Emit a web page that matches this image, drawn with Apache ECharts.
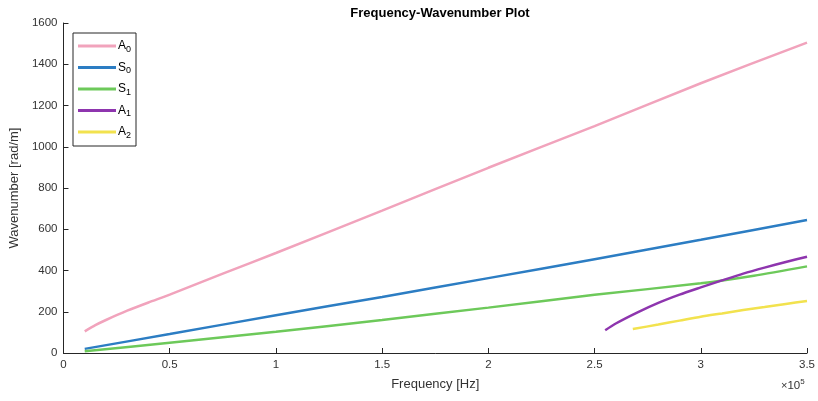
<!DOCTYPE html>
<html>
<head>
<meta charset="utf-8">
<script src="https://cdn.jsdelivr.net/npm/echarts@6/dist/echarts.min.js"></script>
<style>html,body{margin:0;padding:0;background:#fff;}#c{width:818px;height:401px;}</style>
</head>
<body>
<div id="c"></div>
<script>
// Frequencies in Hz
const freqA0 = [10000, 15000, 20000, 30000, 40000, 50000, 75000, 100000, 150000, 200000, 250000, 300000, 350000];
const valA0  = [105, 135, 160, 205, 245, 283, 385, 485, 690, 898, 1100, 1308, 1505];
const freqS0 = [10000, 50000, 100000, 150000, 200000, 250000, 300000, 350000];
const valS0  = [20, 92, 183, 272, 363, 455, 549, 645];
const freqS1 = [10000, 50000, 100000, 150000, 200000, 250000, 300000, 325000, 350000];
const valS1  = [8, 50, 103, 160, 220, 282, 338, 375, 420];
const freqA1 = [255000, 260000, 270000, 280000, 290000, 300000, 310000, 320000, 330000, 340000, 350000];
const valA1  = [110, 143, 196, 243, 283, 318, 352, 385, 414, 441, 467];
const freqA2 = [268000, 280000, 290000, 300000, 310000, 320000, 330000, 340000, 350000];
const valA2  = [116, 138, 157, 176, 192, 208, 223, 238, 252];
const seriesNames = ['A0', 'S0', 'S1', 'A1', 'A2'];
const seriesColors = ['#F1A3BC', '#2C7DC3', '#6DC95A', '#8E35AE', '#F2E24E'];
const xTicks = [0, 0.5, 1, 1.5, 2, 2.5, 3, 3.5];
const yTicks = [0, 200, 400, 600, 800, 1000, 1200, 1400, 1600];

const freqs = [freqA0, freqS0, freqS1, freqA1, freqA2];
const vals = [valA0, valS0, valS1, valA1, valA2];

const chart = echarts.init(document.getElementById('c'), null, {renderer: 'canvas'});
const font = 'Liberation Sans, Arial, sans-serif';
const axisColor = '#262626';

const series = seriesNames.map((n, i) => ({
  name: n,
  type: 'line',
  data: freqs[i].map((f, j) => [f, vals[i][j]]),
  showSymbol: false,
  symbol: 'none',
  smooth: 0.25,
  lineStyle: {color: seriesColors[i], width: 2.5},
  itemStyle: {color: seriesColors[i]},
  z: 2
}));

chart.setOption({
  animation: false,
  backgroundColor: '#fff',
  title: {
    text: 'Frequency-Wavenumber Plot',
    left: 435, textAlign: 'center', top: 2,
    textStyle: {fontFamily: font, fontSize: 13, fontWeight: 'bold', color: '#000'}
  },
  grid: {left: 62, right: 10, top: 23, bottom: 48, containLabel: false},
  legend: {
    orient: 'vertical',
    left: 73, top: 33,
    data: seriesNames,
    itemWidth: 38, itemHeight: 3, itemGap: 7.5,
    padding: [7, 5, 6, 5],
    borderColor: '#262626', borderWidth: 1, backgroundColor: '#fff',
    icon: 'rect',
    itemStyle: {borderWidth: 0},
    formatter: function (name) { return '{b|' + name[0] + '}{s|' + name.slice(1) + '}'; },
    textStyle: {
      fontFamily: font, color: '#000', padding: [0, 0, 0, -3],
      rich: {
        b: {fontFamily: font, fontSize: 12, color: '#000'},
        s: {fontFamily: font, fontSize: 9, color: '#000', verticalAlign: 'bottom', padding: [7, 0, 0, 0]}
      }
    }
  },
  xAxis: {
    type: 'value', min: 0, max: 350000, interval: 50000,
    name: 'Frequency [Hz]', nameLocation: 'middle', nameGap: 25,
    nameTextStyle: {fontFamily: font, fontSize: 13, color: '#333'},
    axisLine: {show: true, lineStyle: {color: axisColor, width: 1}},
    axisTick: {show: true, inside: true, length: 5, lineStyle: {color: axisColor}},
    axisLabel: {fontFamily: font, fontSize: 11.5, color: '#333', margin: 6,
      formatter: function (v) { return String(xTicks[Math.round(v / 50000)]); }},
    splitLine: {show: false}
  },
  yAxis: {
    type: 'value', min: 0, max: 1600, interval: 200,
    name: 'Wavenumber [rad/m]', nameLocation: 'middle', nameGap: 36, nameRotate: 90,
    nameTextStyle: {fontFamily: font, fontSize: 13, color: '#333'},
    axisLine: {show: true, lineStyle: {color: axisColor, width: 1}},
    axisTick: {show: true, inside: true, length: 5, lineStyle: {color: axisColor}},
    axisLabel: {fontFamily: font, fontSize: 11.5, color: '#333', margin: 6,
      formatter: function (v) { return String(v); }},
    splitLine: {show: false}
  },
  graphic: [{
    type: 'text', left: 781, top: 378,
    style: {
      text: '{m|×}{t|10}{e|5}',
      rich: {
        m: {fontFamily: font, fontSize: 11, fill: '#333'},
        t: {fontFamily: font, fontSize: 11.5, fill: '#333'},
        e: {fontFamily: font, fontSize: 8, fill: '#333', verticalAlign: 'top', padding: [0, 0, 8, 0]}
      }
    }
  }],
  series: series
});
</script>
</body>
</html>
